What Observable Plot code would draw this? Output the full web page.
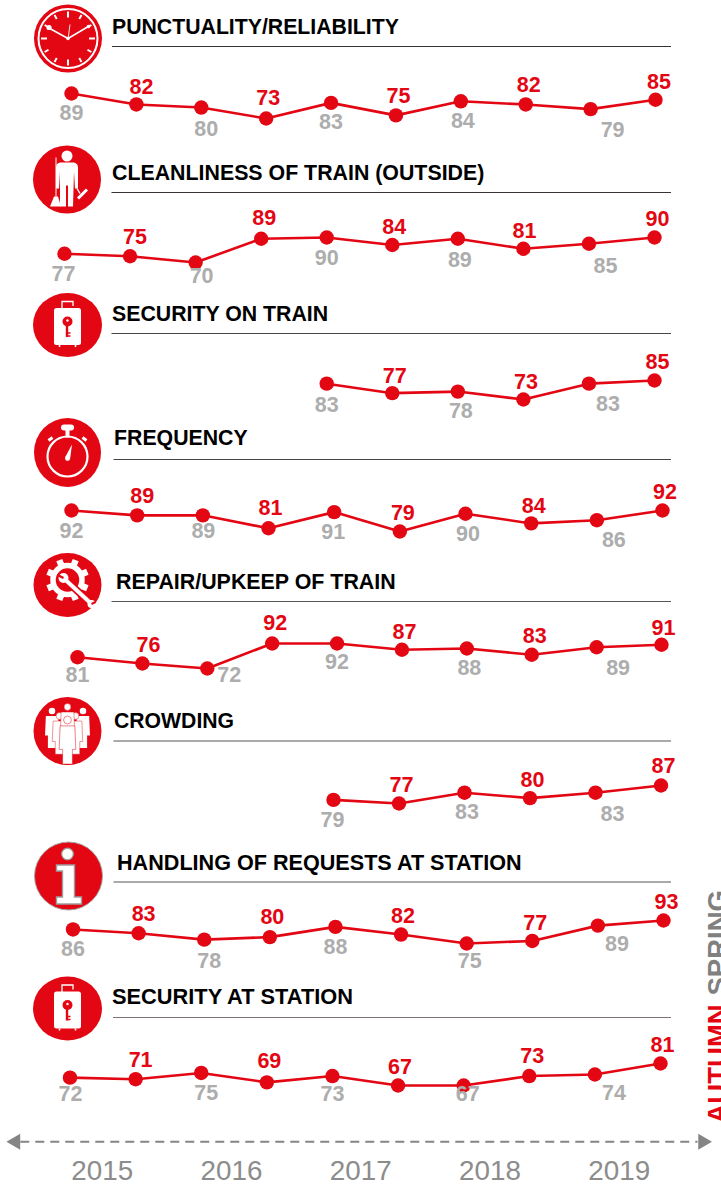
<!DOCTYPE html>
<html>
<head>
<meta charset="utf-8">
<script src="https://cdn.jsdelivr.net/npm/d3@7"></script>
<script src="https://cdn.jsdelivr.net/npm/@observablehq/plot@0.6"></script>
<style>
  html, body { margin: 0; padding: 0; background: #fff; overflow: hidden; }
  #page { position: relative; width: 721px; height: 1185px; overflow: hidden; }
  #page svg { position: absolute; display: block; max-width: none; overflow: visible; }
  #page svg.key { overflow: hidden; }
</style>
</head>
<body>
<div id="page"></div>
<script>
// ---------- data ----------
const periods = ["Spring 2015","Autumn 2015","Spring 2016","Autumn 2016","Spring 2017","Autumn 2017","Spring 2018","Autumn 2018","Spring 2019","Autumn 2019"];
const years = [2015, 2016, 2017, 2018, 2019];
const titles = ["PUNCTUALITY/RELIABILITY","CLEANLINESS OF TRAIN (OUTSIDE)","SECURITY ON TRAIN","FREQUENCY","REPAIR/UPKEEP OF TRAIN","CROWDING","HANDLING OF REQUESTS AT STATION","SECURITY AT STATION"];
const punctuality = [89,82,80,73,83,75,84,82,79,85];
const cleanliness = [77,75,70,89,90,84,89,81,85,90];
const securityTrain = [null,null,null,null,83,77,78,73,83,85];
const frequency = [92,89,89,81,91,79,90,84,86,92];
const repair = [81,76,72,92,92,87,88,83,89,91];
const crowding = [null,null,null,null,79,77,83,80,83,87];
const handling = [86,83,78,80,88,82,75,77,89,93];
const securityStation = [72,71,75,69,73,67,67,73,74,81];
const seriesList = [punctuality,cleanliness,securityTrain,frequency,repair,crowding,handling,securityStation];

// ---------- layout (page pixels; separate from the data) ----------
const layout = [
  {top:0,   height:140, x:[71,655],  v:[89,73], y:[93,118],   icon:"clock",   c:[68,38.5,34,34],   tx:111.5, ty:26.6,  ts:21.25, rx:112, ry:46.5,  rc:"#3a3336",
   dx:[0,5,5,2,0,2.5,2,3,22,3.5], dy:[20,-17,22,-20,19,-19,20,-19,21,-18]},
  {top:140, height:150, x:[64,654],  v:[90,70], y:[237,262],  icon:"cleaner", c:[67,179.5,34,34], tx:111.5, ty:172.6, ts:21.35, rx:111.5, ry:192.5,  rc:"#3a3336",
   dx:[-1,5,6,3,0,2,2,1,16.5,3], dy:[20,-19,14,-21,21,-17.5,21,-18,22,-18]},
  {top:290, height:126, x:[64,654],  v:[85,73], y:[380,399],  icon:"case",    c:[67.5,325,34.5,32], tx:111.5, ty:313.6, ts:21.3, rx:111.5, ry:333.5,rc:"#4a4447",
   dx:[0,0,0,0,0,2.5,3,2.5,19,3], dy:[0,0,0,0,21,-17,19.5,-17,20,-18]},
  {top:416, height:136, x:[71,662],  v:[92,79], y:[510,531],  icon:"watch",   c:[67.5,452.5,33.5,34.5], tx:113.5, ty:437.6, ts:21.3, rx:113.5, ry:459.5, rc:"#4a4447",
   dx:[0,5,.5,2,-1,3,2.5,2.5,17,2.5], dy:[20.5,-19,16,-20,19.5,-18,20,-17,19.5,-18]},
  {top:552, height:143, x:[77,661],  v:[92,72], y:[643,668],  icon:"gear",    c:[67.5,585,34,32],  tx:115.5, ty:581.6, ts:21.4, rx:111.5, ry:601.5, rc:"#5a5457",
   dx:[0,6,22,3,0,2.5,2.5,3,21.5,2], dy:[18,-18,7,-20,19,-18,20,-19,21,-17]},
  {top:695, height:145, x:[71,660.5],v:[87,77], y:[785,803],  icon:"crowd",   c:[67.5,731,34,34],  tx:113.5, ty:720.6, ts:21.2, rx:113.5, ry:741, rc:"#5a5457",
   dx:[0,0,0,0,-1,2.5,2.5,2.5,17,2.5], dy:[0,0,0,0,20.5,-18,19,-18,21,-19]},
  {top:840, height:135, x:[72.5,663],v:[93,75], y:[920,943],  icon:"info",    c:[68.5,876,34,34],  tx:116.5, ty:862.6, ts:21.6, rx:113.5, ry:882, rc:"#5a5457",
   dx:[0,5,5,2.5,0,2,3,3,19,3], dy:[20,-19,21,-20.5,20,-18,18,-18,18.5,-18]},
  {top:975, height:153, x:[69.5,660],v:[81,67], y:[1063,1085],icon:"case",    c:[67.5,1008.5,34.5,32], tx:111.5, ty:996.6, ts:21.8, rx:113, ry:1017.5, rc:"#7d7376",
   dx:[.5,5,5,2.5,0,2,4,3,19,2], dy:[16.5,-18.7,20.6,-21,18.4,-18,9,-19.6,19,-18]}
];
const RED = "#e30613", GREY = "#adadad", AXIS = "#858585";
const FONT = "Liberation Sans, Arial, sans-serif";

// ---------- pictograms ----------
const icons = {
  clock(g) {
    g.append("circle").attr("r", 29.5).attr("fill","none").attr("stroke","#fff").attr("stroke-width",2);
    d3.range(12).forEach(i => {
      const a = i * Math.PI / 6, long = i % 3 === 0;
      g.append("line").attr("x1", Math.sin(a)*(long?21:22.5)).attr("y1",-Math.cos(a)*(long?21:22.5))
        .attr("x2", Math.sin(a)*27).attr("y2",-Math.cos(a)*27).attr("stroke","#fff").attr("stroke-width",2);
    });
    g.append("path").attr("d","M0,0L-20,-11M0,0L22,-13").attr("stroke","#fff").attr("stroke-width",1.6).attr("fill","none");
    g.append("path").attr("d","M0,1L2,-14").attr("stroke","#fff").attr("stroke-width",.9).attr("fill","none");
    g.append("circle").attr("cx",-19).attr("cy",-11).attr("r",2.6).attr("fill","#fff");
    g.append("circle").attr("cx",20.5).attr("cy",-12).attr("r",1.8).attr("fill","#fff");
    g.append("circle").attr("r",1.8).attr("fill","#fff");
  },
  cleaner(g) {
    g.append("circle").attr("cy",-23.5).attr("r",5.5).attr("fill","#fff");
    g.append("path").attr("fill","#fff").attr("d","M-7,-17L7,-17Q11,-16 11,-12L11,9L8,9L7,-8L6,27L1,27L1,6L-1,6L-1,27L-7,27L-7,-8L-8,9L-11,9L-11,-12Q-11,-16 -7,-17Z");
    g.append("path").attr("stroke","#fff").attr("stroke-width",1).attr("fill","none").attr("d","M-11,-22L-11,17");
    g.append("path").attr("fill","#fff").attr("d","M-13,17L-9,17L-6,27L-17,27Z");
    g.append("path").attr("stroke","#fff").attr("stroke-width",1.4).attr("fill","none").attr("d","M10,9L13,14");
    g.append("path").attr("stroke","#fff").attr("stroke-width",3).attr("fill","none").attr("d","M11,19L20,10");
  },
  case(g) {
    g.append("path").attr("stroke","#fff").attr("stroke-width",1.3).attr("fill","none").attr("d","M-5.5,-16L-5.5,-23.5L5.5,-23.5L5.5,-19");
    g.append("rect").attr("x",-13.5).attr("y",-17).attr("width",27).attr("height",37).attr("rx",2.5).attr("fill","#fff");
    g.append("path").attr("stroke","#fff").attr("stroke-width",1.6).attr("fill","none").attr("d","M-8,20L-8,22M8,20L8,22");
    g.append("circle").attr("cy",-3.5).attr("r",5).attr("fill",RED);
    g.append("circle").attr("cy",-4.5).attr("r",1.2).attr("fill","#fff");
    g.append("path").attr("stroke",RED).attr("stroke-width",2.4).attr("fill","none").attr("d","M-.5,0L-.5,12");
    g.append("path").attr("stroke",RED).attr("stroke-width",1.6).attr("fill","none").attr("d","M0,8L3,8M0,11L3,11");
  },
  watch(g) {
    g.append("circle").attr("cy",4).attr("r",20).attr("fill","none").attr("stroke","#fff").attr("stroke-width",2.2);
    g.append("rect").attr("x",-6.5).attr("y",-28).attr("width",13).attr("height",6).attr("rx",3).attr("fill","#fff");
    g.append("rect").attr("x",-2).attr("y",-23).attr("width",4).attr("height",8).attr("fill","#fff");
    g.append("path").attr("stroke","#fff").attr("stroke-width",3).attr("fill","none").attr("d","M-19,-12L-15,-15M19,-12L15,-15");
    g.append("path").attr("fill","#fff").attr("d","M-2.5,5L4.5,-8L2.5,7Z");
    g.append("circle").attr("cy",6).attr("r",2.4).attr("fill","#fff");
  },
  gear(g) {
    const t = g.append("g").attr("transform","translate(0,-5)");
    t.append("circle").attr("r",14.5).attr("fill","none").attr("stroke","#fff").attr("stroke-width",5.5);
    d3.range(8).forEach(i => t.append("rect").attr("x",-3.2).attr("y",-21.5).attr("width",6.4).attr("height",6).attr("fill","#fff").attr("transform",`rotate(${i*45+22.5})`));
    g.append("path").attr("stroke",RED).attr("stroke-width",7.5).attr("fill","none").attr("d","M-2,-5L22,17");
    g.append("path").attr("stroke","#fff").attr("stroke-width",4).attr("fill","none").attr("d","M-3,-6L23,18");
    g.append("circle").attr("cx",-4).attr("cy",-7).attr("r",5).attr("fill","#fff");
    g.append("path").attr("stroke",RED).attr("stroke-width",2.5).attr("fill","none").attr("d","M-10,-10L-4,-7");
    g.append("circle").attr("cx",24).attr("cy",19).attr("r",4).attr("fill","#fff");
    g.append("path").attr("stroke",RED).attr("stroke-width",2).attr("fill","none").attr("d","M24,19L28,17");
  },
  crowd(g) {
    const person = (x, y, s, sw) => {
      const p = g.append("g").attr("transform",`translate(${x},${y}) scale(${s})`);
      p.append("circle").attr("cy",0).attr("r",4).attr("fill","#fff").attr("stroke",RED).attr("stroke-width",sw);
      p.append("path").attr("fill","#fff").attr("stroke",RED).attr("stroke-width",sw)
        .attr("d","M-7.5,6L7.5,6L8.5,30L5,30L5,45L-5,45L-5,30L-8.5,30Z");
    };
    person(-15.5,-20,.82,0); person(15.5,-20,.82,0);
    person(-8,-15,.85,.5); person(8,-15,.85,.5);
    person(0,-24,.85,.5);
    person(0,-11,.98,.5);
  },
  info(g) {
    g.append("circle").attr("cx",-1).attr("cy",-22).attr("r",5.8).attr("fill","#fff").attr("stroke","#9d9d9d").attr("stroke-width",1.2);
    g.append("path").attr("fill","#fff").attr("stroke","#9d9d9d").attr("stroke-width",1.4)
      .attr("d","M-12,-11L6,-11L6,21L13,21L13,28L-12,28L-12,21L-6,21L-6,-5L-12,-5Z");
  }
};

function header(p) {
  return (index, scales, values, dims) => {
    const root = d3.create("svg:g");
    const [cx, cy, rx, ry] = p.c;
    const ico = root.append("g").attr("transform", `translate(${cx},${cy - p.top})`);
    const disc = ico.append("ellipse").attr("rx", rx).attr("ry", ry).attr("fill", RED);
    if (p.icon === "info") disc.attr("stroke", "#a9a9a9").attr("stroke-width", 1);
    icons[p.icon](ico);
    root.append("line").attr("x1", p.rx).attr("x2", 671).attr("y1", p.ry - p.top).attr("y2", p.ry - p.top)
      .attr("stroke", p.rc).attr("stroke-width", 1.1);
    return root.node();
  };
}

// ---------- panels ----------
const page = document.getElementById("page");
seriesList.forEach((series, k) => {
  const p = layout[k];
  const rows = periods.map((period, i) => ({period, i, value: series[i], dx: p.dx[i], dy: p.dy[i]}));
  const known = rows.filter(d => d.value != null);
  const chart = Plot.plot({
    width: 721, height: p.height,
    marginTop: 0, marginRight: 0, marginBottom: 0, marginLeft: 0,
    style: {background: "transparent", fontFamily: FONT},
    x: {type: "point", domain: periods, range: p.x, padding: 0, round: false, axis: null},
    y: {type: "linear", domain: p.v, range: p.y.map(v => v - p.top), axis: null},
    marks: [
      header(p),
      Plot.text([titles[k]], {
        text: d => d, frameAnchor: "top-left", dx: p.tx, dy: p.ty - p.top,
        textAnchor: "start", lineAnchor: "middle",
        fontFamily: FONT, fontWeight: 700, fontSize: p.ts, fill: "#000"
      }),
      Plot.line(known, {x: "period", y: "value", stroke: RED, strokeWidth: 2.6, curve: "linear"}),
      Plot.dot(known, {x: "period", y: "value", r: 7.2, fill: RED}),
      ...known.map(d => Plot.text([d], {
        x: "period", y: "value", text: v => String(v.value),
        dx: d.dx, dy: d.dy, lineAnchor: "middle", textAnchor: "middle",
        fontFamily: FONT, fontWeight: 700, fontSize: 21.5,
        fill: d.i % 2 ? RED : GREY
      }))
    ]
  });
  chart.style.left = "0px";
  chart.style.top = p.top + "px";
  page.appendChild(chart);
});

// ---------- time axis ----------
const axisRows = ["arrow", "labels"];
const footer = Plot.plot({
  width: 721, height: 57,
  marginTop: 0, marginRight: 0, marginBottom: 0, marginLeft: 0,
  style: {background: "transparent", fontFamily: FONT},
  x: {type: "linear", domain: [2015, 2019], range: [101.7, 618.7], axis: null},
  y: {type: "point", domain: axisRows, range: [13.3, 43], padding: 0, round: false, axis: null},
  marks: [
    Plot.ruleY(["arrow"], {x1: 2014.37, x2: 2019.61, stroke: AXIS, strokeWidth: 2, strokeDasharray: "9,6"}),
    Plot.dot([2014.33], {x: d => d, y: () => "arrow", symbol: "triangle", r: 5.9, rotate: -90, fill: AXIS}),
    Plot.dot([2019.647], {x: d => d, y: () => "arrow", symbol: "triangle", r: 5.9, rotate: 90, fill: AXIS}),
    Plot.text(years, {x: d => d, y: () => "labels", text: d => String(d), fontFamily: FONT, fontSize: 27.8, fill: "#8c8c8c", lineAnchor: "middle"})
  ]
});
footer.style.left = "0px";
footer.style.top = "1128px";
page.appendChild(footer);

// ---------- season key ----------
const key = Plot.plot({
  className: "key",
  width: 21, height: 250,
  marginTop: 0, marginRight: 0, marginBottom: 0, marginLeft: 0,
  style: {background: "transparent", fontFamily: FONT},
  x: {axis: null}, y: {axis: null},
  marks: [
    Plot.text(["SPRING"], {text: d => d, frameAnchor: "top-left", dx: 18, dy: 115, rotate: -90, textAnchor: "start", lineAnchor: "middle", fontFamily: FONT, fontWeight: 700, fontSize: 27.5, fill: "#808080"}),
    Plot.text(["AUTUMN"], {text: d => d, frameAnchor: "top-left", dx: 18, dy: 243, rotate: -90, textAnchor: "start", lineAnchor: "middle", fontFamily: FONT, fontWeight: 700, fontSize: 27.5, fill: RED})
  ]
});
key.style.left = "700px";
key.style.top = "880px";
page.appendChild(key);
</script>
</body>
</html>
